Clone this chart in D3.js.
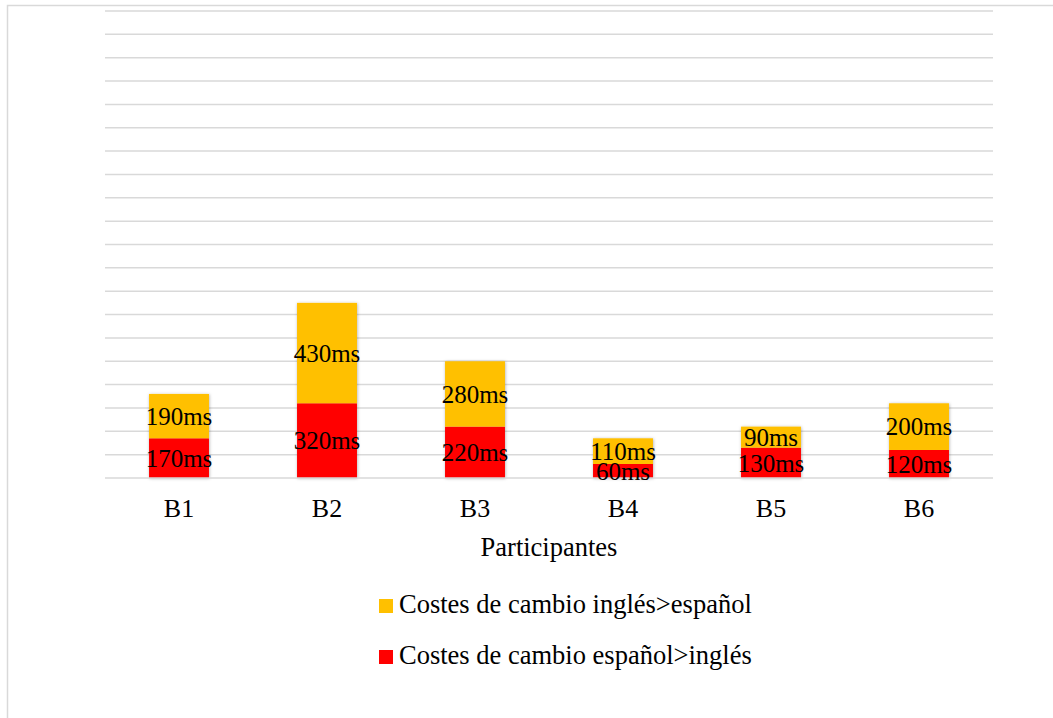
<!DOCTYPE html>
<html>
<head>
<meta charset="utf-8">
<script src="https://cdn.jsdelivr.net/npm/d3@7"></script>
<style>
  html, body { margin: 0; padding: 0; background: #fff; }
  svg { display: block; font-family: "Liberation Serif", "Times New Roman", serif; }
</style>
</head>
<body>
<svg id="chart" width="1053" height="718"></svg>
<script>
// Participants and switching costs (ms)
const participants = ["B1", "B2", "B3", "B4", "B5", "B6"];
const espanolIngles = [170, 320, 220, 60, 130, 120];   // bottom segment
const inglesEspanol = [190, 430, 280, 110, 90, 200];   // top segment
const seriesNames = ["Costes de cambio inglés>español", "Costes de cambio español>inglés"];
const seriesColors = ["#FFC000", "#FF0000"];
const yMax = 2000;
const gridStep = 100;

const FONT = "Liberation Serif, Times New Roman, serif";
const svg = d3.select("#chart");

// Outer frame (left and top edges)
svg.append("path")
  .attr("d", "M7.5,718 L7.5,5.5 L1053,5.5")
  .attr("fill", "none")
  .attr("stroke", "#d9d9d9")
  .attr("stroke-width", 1.5);

const plot = { left: 105, right: 993, top: 11, bottom: 478 };

const x = d3.scaleBand()
  .domain(participants)
  .range([plot.left, plot.right])
  .paddingInner(0.595)
  .paddingOuter(0.2975);

const y = d3.scaleLinear()
  .domain([0, yMax])
  .range([plot.bottom, plot.top]);

// Soft shadow around each column
const defs = svg.append("defs");
const f = defs.append("filter").attr("id", "shadow")
  .attr("x", "-20%").attr("y", "-20%").attr("width", "140%").attr("height", "140%");
f.append("feDropShadow")
  .attr("dx", 0.5).attr("dy", 0.5).attr("stdDeviation", 1.5)
  .attr("flood-color", "#000").attr("flood-opacity", 0.3);

// Horizontal gridlines
const gridValues = d3.range(gridStep, yMax + 1, gridStep);
svg.append("g")
  .selectAll("line")
  .data(gridValues)
  .join("line")
  .attr("x1", plot.left).attr("x2", plot.right)
  .attr("y1", d => y(d)).attr("y2", d => y(d))
  .attr("stroke", "#d9d9d9")
  .attr("stroke-width", 1.5);

// Stacked data
const rows = participants.map((p, i) => ({ p, a: espanolIngles[i], b: inglesEspanol[i] }));
const stack = d3.stack().keys(["a", "b"])(rows);
const keyColor = { a: seriesColors[1], b: seriesColors[0] };

// Each stacked column is one group so the shadow surrounds the whole column
const cols = svg.append("g");
rows.forEach((r, i) => {
  const g = cols.append("g").attr("filter", "url(#shadow)");
  stack.forEach(layer => {
    const seg = layer[i];
    g.append("rect")
      .attr("x", x(r.p))
      .attr("width", x.bandwidth())
      .attr("y", y(seg[1]))
      .attr("height", y(seg[0]) - y(seg[1]))
      .attr("fill", keyColor[layer.key]);
  });
});

// Axis baseline
svg.append("line")
  .attr("x1", plot.left).attr("x2", plot.right)
  .attr("y1", y(0)).attr("y2", y(0))
  .attr("stroke", "#d9d9d9")
  .attr("stroke-width", 1.5);

// Value labels centered in each segment
const labels = svg.append("g")
  .attr("font-family", FONT)
  .attr("font-size", 25)
  .attr("fill", "#000")
  .attr("text-anchor", "middle");
stack.forEach(layer => {
  layer.forEach((seg, i) => {
    const v = seg[1] - seg[0];
    labels.append("text")
      .attr("x", x(participants[i]) + x.bandwidth() / 2)
      .attr("y", (y(seg[0]) + y(seg[1])) / 2)
      .attr("dy", "0.35em")
      .text(v + "ms");
  });
});

// Category axis labels
const xAxis = d3.axisBottom(x).tickSize(0).tickPadding(0);
const ax = svg.append("g")
  .attr("transform", `translate(0,${y(0)})`)
  .call(xAxis)
  .attr("font-family", FONT)
  .attr("font-size", 26);
ax.select(".domain").remove();
ax.selectAll("text")
  .attr("dy", null)
  .attr("y", 39)
  .attr("fill", "#000");

// Axis title
svg.append("text")
  .attr("x", (plot.left + plot.right) / 2)
  .attr("y", 556)
  .attr("text-anchor", "middle")
  .attr("font-family", FONT)
  .attr("font-size", 26.5)
  .text("Participantes");

// Legend
const legend = svg.append("g").attr("transform", "translate(379,0)");
const legendBase = [613, 664];
seriesNames.forEach((name, i) => {
  legend.append("rect")
    .attr("x", 0).attr("y", legendBase[i] - 14)
    .attr("width", 14).attr("height", 14)
    .attr("fill", seriesColors[i]);
  legend.append("text")
    .attr("x", 20).attr("y", legendBase[i])
    .attr("font-family", FONT)
    .attr("font-size", 26.5)
    .text(name);
});
</script>
</body>
</html>
